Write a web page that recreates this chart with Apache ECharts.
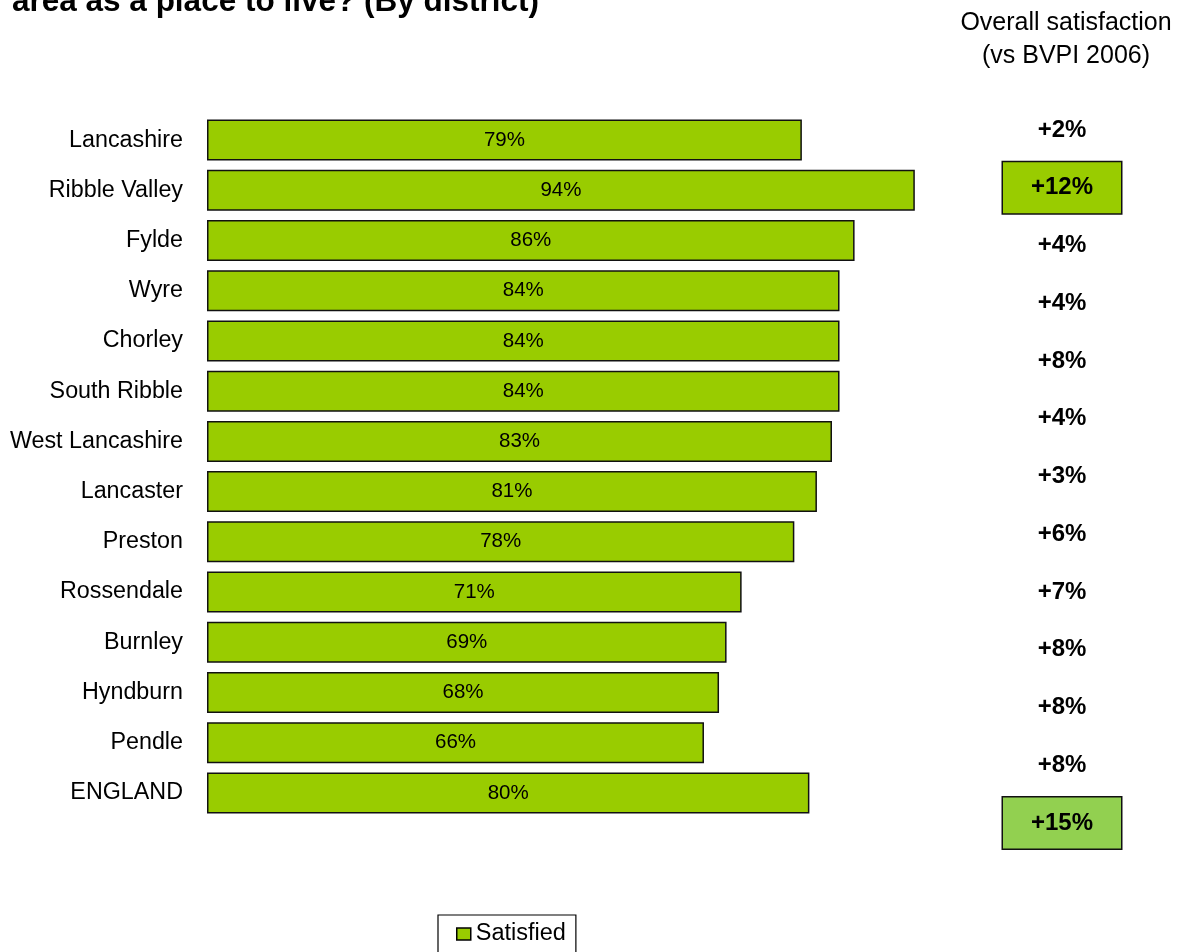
<!DOCTYPE html>
<html>
<head>
<meta charset="utf-8">
<script src="https://cdn.jsdelivr.net/npm/echarts@6/dist/echarts.min.js"></script>
<style>
  html, body { margin: 0; padding: 0; background: #fff; }
  #chart { width: 1186px; height: 952px; }
</style>
</head>
<body>
<div id="chart"></div>
<script>
// Districts, top to bottom
const districts = ['Lancashire', 'Ribble Valley', 'Fylde', 'Wyre', 'Chorley', 'South Ribble',
  'West Lancashire', 'Lancaster', 'Preston', 'Rossendale', 'Burnley', 'Hyndburn', 'Pendle', 'ENGLAND'];

// Share satisfied with the local area as a place to live (%)
const satisfied = [79, 94, 86, 84, 84, 84, 83, 81, 78, 71, 69, 68, 66, 80];

// Change in overall satisfaction vs BVPI 2006 (percentage points), ENGLAND has none
const changeDistricts = districts.slice(0, 13);
const changeVsBVPI = [2, 12, 4, 4, 8, 4, 3, 6, 7, 8, 8, 8, 15];

const FONT = 'Liberation Sans, Arial, Helvetica, sans-serif';
const BAR_GREEN = '#99CC00';

// Boxed call-outs in the right-hand column
const calloutFill = { 'Ribble Valley': '#99CC00', 'Pendle': '#92D050' };

const chart = echarts.init(document.getElementById('chart'), null, { renderer: 'canvas' });

const changeData = changeDistricts.map(function (name, i) {
  const item = { value: [0.5, name], change: changeVsBVPI[i] };
  if (calloutFill[name]) {
    item.label = {
      backgroundColor: calloutFill[name],
      borderColor: '#111',
      borderWidth: 1.5,
      width: 118,
      height: 51,
      lineHeight: 51,
      align: 'center',
      verticalAlign: 'middle'
    };
  }
  return item;
});

chart.setOption({
  animation: false,
  backgroundColor: '#fff',
  title: {
    text: 'area as a place to live? (By district)',
    left: 12,
    top: -14,
    padding: 0,
    textStyle: { fontFamily: FONT, fontWeight: 'bold', fontSize: 31.5, color: '#000' }
  },
  graphic: [{
    type: 'text',
    x: 1066,
    y: 7,
    style: {
      text: 'Overall satisfaction\n(vs BVPI 2006)',
      align: 'center',
      verticalAlign: 'top',
      fontFamily: FONT,
      fontSize: 25,
      lineHeight: 33,
      fill: '#000'
    }
  }],
  legend: {
    data: ['Satisfied'],
    left: 438,
    top: 915,
    padding: [7, 10, 20, 18],
    borderColor: '#000',
    borderWidth: 1.2,
    itemWidth: 14,
    itemHeight: 12,
    icon: 'rect',
    itemStyle: { borderColor: '#000', borderWidth: 1.5 },
    textStyle: { fontFamily: FONT, fontSize: 23.5, color: '#000' }
  },
  grid: [
    { left: 207, right: 226, top: 115, bottom: 134 },
    { left: 1002, width: 120, top: 101, height: 751 }
  ],
  xAxis: [
    { type: 'value', gridIndex: 0, min: 0, max: 100, show: false },
    { type: 'value', gridIndex: 1, min: 0, max: 1, show: false }
  ],
  yAxis: [
    {
      type: 'category',
      gridIndex: 0,
      data: districts,
      inverse: true,
      axisLine: { show: false },
      axisTick: { show: false },
      splitLine: { show: false },
      axisLabel: { margin: 24, fontFamily: FONT, fontSize: 23.3, color: '#000' }
    },
    {
      type: 'category',
      gridIndex: 1,
      data: changeDistricts,
      inverse: true,
      show: false
    }
  ],
  series: [
    {
      name: 'Satisfied',
      type: 'bar',
      xAxisIndex: 0,
      yAxisIndex: 0,
      data: satisfied,
      barWidth: 41,
      itemStyle: { color: BAR_GREEN, borderColor: '#111', borderWidth: 1.5 },
      label: {
        show: true,
        position: 'inside',
        formatter: '{c}%',
        fontFamily: FONT,
        fontSize: 20.5,
        color: '#000'
      }
    },
    {
      name: 'Change vs BVPI 2006',
      type: 'scatter',
      xAxisIndex: 1,
      yAxisIndex: 1,
      silent: true,
      symbolSize: 1,
      itemStyle: { color: 'rgba(0,0,0,0)', opacity: 1 },
      data: changeData,
      label: {
        show: true,
        position: 'inside',
        formatter: function (p) { return '+' + p.data.change + '%'; },
        fontFamily: FONT,
        fontWeight: 'bold',
        fontSize: 24,
        color: '#000'
      }
    }
  ]
});
</script>
</body>
</html>
